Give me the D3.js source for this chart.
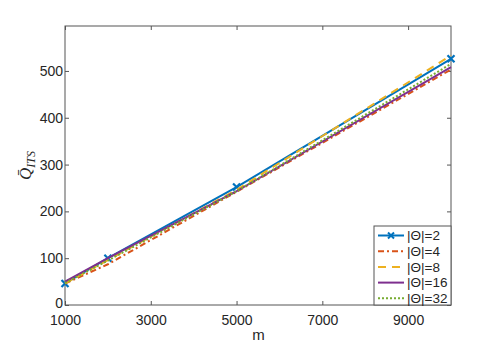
<!DOCTYPE html>
<html>
<head>
<meta charset="utf-8">
<style>
  body { margin: 0; background: #fff; }
  svg text { font-family: "Liberation Sans", Arial, sans-serif; fill: #262626; }
</style>
</head>
<body>
<div id="chart"></div>
<script src="https://d3js.org/d3.v7.min.js"></script>
<script>
const mValues = [1000, 2000, 5000, 10000];
const seriesNames = ['|Θ|=2', '|Θ|=4', '|Θ|=8', '|Θ|=16', '|Θ|=32'];
const q2 = [46, 100, 252, 526];
const q4 = [46, 87, 242, 503];
const q8 = [46, 96, 246, 533];
const q16 = [50, 100, 243, 508];
const q32 = [47, 95, 243, 515];
const xTicks = [1000, 3000, 5000, 7000, 9000];
const yTicks = [0, 100, 200, 300, 400, 500];

const width = 498, height = 346;
const margin = { left: 65, right: 47, top: 26, bottom: 41 };

const series = [
  { name: seriesNames[0], values: q2, color: '#0072BD', dash: null, marker: true },
  { name: seriesNames[1], values: q4, color: '#D95319', dash: '6,3,2,3' },
  { name: seriesNames[2], values: q8, color: '#EDB120', dash: '8,6' },
  { name: seriesNames[3], values: q16, color: '#7E2F8E', dash: null },
  { name: seriesNames[4], values: q32, color: '#77AC30', dash: '2,2' }
];

const svg = d3.select('#chart').append('svg')
  .attr('width', width)
  .attr('height', height);

const x = d3.scaleLinear().domain([1000, 10000]).range([margin.left, width - margin.right]);
const y = d3.scaleLinear().domain([0, 596]).range([height - margin.bottom, margin.top]);

const axisColor = '#555';
const fmt = d3.format('d');

// axes box with inward ticks
svg.append('rect')
  .attr('x', x(1000)).attr('y', y(596))
  .attr('width', x(10000) - x(1000)).attr('height', y(0) - y(596))
  .attr('fill', 'none').attr('stroke', axisColor).attr('stroke-width', 1);

const xAxis = svg.append('g')
  .attr('transform', `translate(0,${y(0)})`)
  .call(d3.axisBottom(x).tickValues(xTicks).tickFormat(fmt).tickSizeInner(-4).tickSizeOuter(0).tickPadding(10));
const xTop = svg.append('g')
  .attr('transform', `translate(0,${y(596)})`)
  .call(d3.axisTop(x).tickValues(xTicks).tickSizeInner(-4).tickSizeOuter(0).tickFormat(''));
const yAxis = svg.append('g')
  .attr('transform', `translate(${x(1000)},0)`)
  .call(d3.axisLeft(y).tickValues(yTicks).tickFormat(fmt).tickSizeInner(-4).tickSizeOuter(0).tickPadding(2));
const yRight = svg.append('g')
  .attr('transform', `translate(${x(10000)},0)`)
  .call(d3.axisRight(y).tickValues(yTicks).tickSizeInner(-4).tickSizeOuter(0).tickFormat(''));

[xAxis, xTop, yAxis, yRight].forEach(g => {
  g.select('.domain').remove();
  g.selectAll('line').attr('stroke', axisColor);
  g.selectAll('text').attr('font-size', 14).attr('fill', '#262626')
    .attr('font-family', '"Liberation Sans", Arial, sans-serif');
});
// nudge the bottom "0" label up slightly so it clears the x labels
yAxis.selectAll('.tick').filter(d => d === 0).select('text').attr('dy', '0.2em');

// lines
const line = d3.line()
  .x((d, i) => x(mValues[i]))
  .y(d => y(d));

series.forEach(s => {
  svg.append('path')
    .datum(s.values)
    .attr('d', line)
    .attr('fill', 'none')
    .attr('stroke', s.color)
    .attr('stroke-width', 2)
    .attr('stroke-dasharray', s.dash);
  if (s.marker) {
    svg.selectAll(null)
      .data(s.values)
      .join('path')
      .attr('d', 'M-3.5,-3.5L3.5,3.5M-3.5,3.5L3.5,-3.5')
      .attr('transform', (d, i) => `translate(${x(mValues[i])},${y(d)})`)
      .attr('stroke', s.color)
      .attr('stroke-width', 2.2);
  }
});

// axis labels
svg.append('text')
  .attr('x', (x(1000) + x(10000)) / 2 + 0.5)
  .attr('y', 340)
  .attr('text-anchor', 'middle')
  .attr('font-size', 15)
  .text('m');

const ylab = svg.append('text')
  .attr('transform', `translate(31,${(y(0) + y(596)) / 2}) rotate(-90)`)
  .attr('text-anchor', 'middle')
  .style('font-family', '"Liberation Serif", "DejaVu Serif", serif')
  .style('font-style', 'italic')
  .attr('font-size', 17);
ylab.append('tspan').text('Q\u0304');
ylab.append('tspan').attr('dy', 4).attr('font-size', 12).text('ITS');

// legend
const legX = 374, legY = 226, legW = 77, legH = 79;
const legend = svg.append('g').attr('id', 'legend');
legend.append('rect')
  .attr('x', legX).attr('y', legY).attr('width', legW).attr('height', legH)
  .attr('fill', '#fff').attr('stroke', axisColor).attr('stroke-width', 1);

series.forEach((s, i) => {
  const cy = legY + 9.5 + i * 15.7;
  legend.append('line')
    .attr('x1', legX + 4).attr('x2', legX + 30)
    .attr('y1', cy).attr('y2', cy)
    .attr('stroke', s.color).attr('stroke-width', 2)
    .attr('stroke-dasharray', s.dash);
  if (s.marker) {
    legend.append('path')
      .attr('d', 'M-3,-3L3,3M-3,3L3,-3')
      .attr('transform', `translate(${legX + 17},${cy})`)
      .attr('stroke', s.color).attr('stroke-width', 2);
  }
  legend.append('text')
    .attr('x', legX + 33).attr('y', cy + 4.8)
    .attr('font-size', 13.5)
    .text(s.name);
});
</script>
</body>
</html>
